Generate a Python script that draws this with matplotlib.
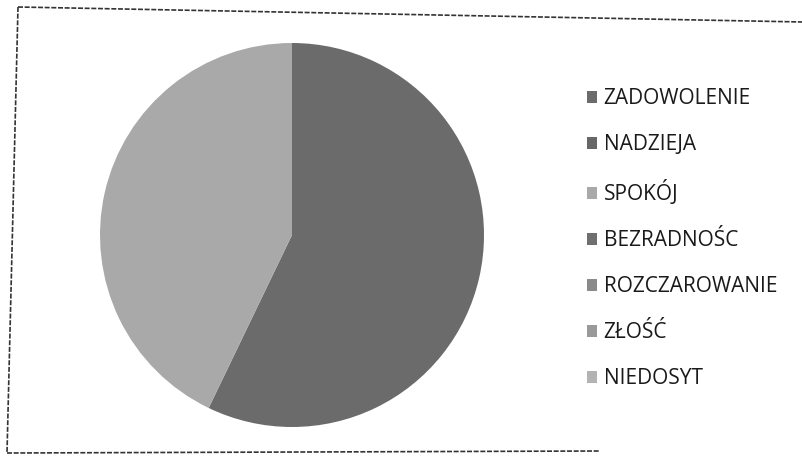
import matplotlib.pyplot as plt
from matplotlib.lines import Line2D

# feelings and how many answers each got
labels = ["ZADOWOLENIE", "NADZIEJA", "SPOKÓJ", "BEZRADNOŚC",
          "ROZCZAROWANIE", "ZŁOŚĆ", "NIEDOSYT"]
values = [4, 0, 3, 0, 0, 0, 0]
colors = ["#6b6b6b", "#676767", "#a9a9a9", "#6f6f6f",
          "#8a8a8a", "#9a9a9a", "#b3b3b3"]

W, H = 803, 463
fig = plt.figure(figsize=(W / 100, H / 100), dpi=100)
fig.patch.set_facecolor("white")

# pie centre ~ (292, 235) px, radius ~ 192 px
cx, cy, r = 292, 235, 192
ax = fig.add_axes([(cx - r) / W, (H - cy - r) / H, 2 * r / W, 2 * r / H])
wedges, _ = ax.pie(values, colors=colors, startangle=90, counterclock=False,
                   wedgeprops=dict(linewidth=0))
ax.set_xlim(-1, 1)
ax.set_ylim(-1, 1)
ax.set_aspect("equal")
ax.axis("off")

plt.rcParams["font.family"] = ["Open Sans", "DejaVu Sans"]
leg = fig.legend(wedges, labels, loc="upper left",
                 bbox_to_anchor=(587 / W, 1 - 88 / H),
                 frameon=False, fontsize=15, borderpad=0, borderaxespad=0,
                 handlelength=0.5, handleheight=0.5, handletextpad=0.3,
                 labelspacing=1.2)
for t in leg.get_texts():
    t.set_color("#1a1a1a")


# scanned chart frame (slightly skewed)
def px_line(x0, y0, x1, y1, **kw):
    fig.add_artist(Line2D([x0 / W, x1 / W], [1 - y0 / H, 1 - y1 / H],
                          transform=fig.transFigure, **kw))


frame = dict(color="#333333", linewidth=1.2, linestyle=(0, (3, 1)))
px_line(18, 7, 803, 22, **frame)
px_line(18, 7, 7, 453, **frame)
px_line(7, 453, 600, 451, **frame)

fig.savefig("out.png", dpi=100)
